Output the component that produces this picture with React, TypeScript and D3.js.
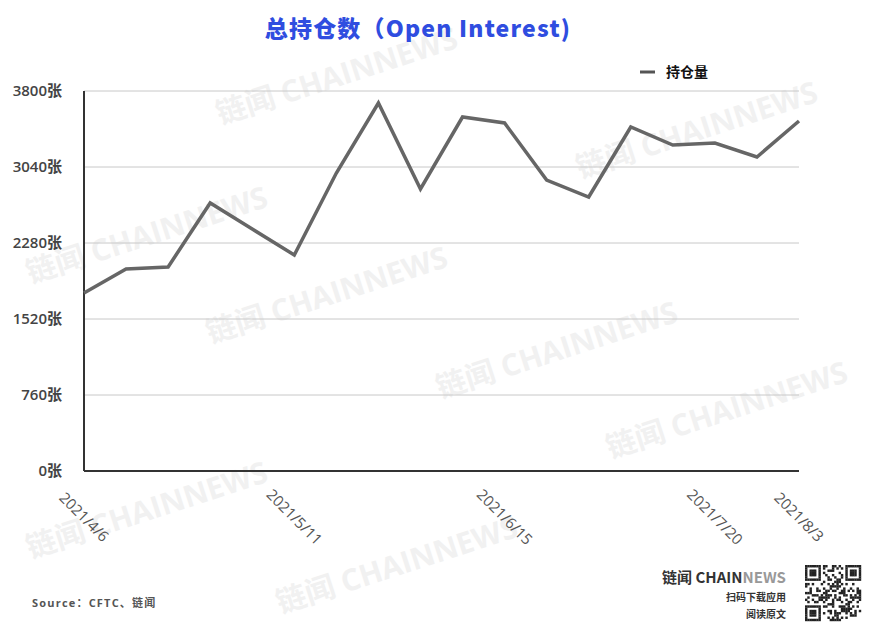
import { scaleLinear, scalePoint, line } from "d3";
import { useMemo } from "react";

// weekly dates (CFTC reports)
const dates = [
  "2021/4/6", "2021/4/13", "2021/4/20", "2021/4/27", "2021/5/4", "2021/5/11",
  "2021/5/18", "2021/5/25", "2021/6/1", "2021/6/8", "2021/6/15", "2021/6/22",
  "2021/6/29", "2021/7/6", "2021/7/13", "2021/7/20", "2021/7/27", "2021/8/3"
];
const openInterest = [
  1780, 2020, 2040, 2680, 2420, 2160, 2980, 3680, 2820, 3540, 3480, 2910,
  2740, 3440, 3260, 3280, 3140, 3500
];
const yTicks = [0, 760, 1520, 2280, 3040, 3800];
const xLabels = ["2021/4/6", "2021/5/11", "2021/6/15", "2021/7/20", "2021/8/3"];
const seriesName = "持仓量";

const width = 872;
const height = 632;
const margin = { left: 84, right: 73, top: 91, bottom: 161 };
const lineColor = "#666666";
const fontFamily = "'Open Sans', 'Noto Sans CJK SC', sans-serif";

const watermarks = [
  { x: 340, y: 86 },
  { x: 700, y: 140 },
  { x: 150, y: 245 },
  { x: 330, y: 305 },
  { x: 560, y: 360 },
  { x: 730, y: 420 },
  { x: 150, y: 520 },
  { x: 400, y: 575 },
];

function QrCode({ x, y, size }: { x: number; y: number; size: number }) {
  const n = 25;
  const cell = size / n;
  const cells: JSX.Element[] = [];
  const finder = (cx: number, cy: number) => (r: number, c: number) => {
    const dr = r - cy;
    const dc = c - cx;
    if (dr < 0 || dc < 0 || dr > 6 || dc > 6) return null;
    const ring = Math.min(dr, dc, 6 - dr, 6 - dc);
    return ring !== 1;
  };
  const finders = [finder(0, 0), finder(n - 7, 0), finder(0, n - 7)];
  for (let r = 0; r < n; r++) {
    for (let c = 0; c < n; c++) {
      let on: boolean | null = null;
      for (const f of finders) {
        const v = f(r, c);
        if (v !== null) on = v;
      }
      if (on === null) {
        const inSep = (r <= 7 && (c <= 7 || c >= n - 8)) || (r >= n - 8 && c <= 7);
        if (inSep) on = false;
        else on = ((r * 7 + c * 13 + ((r * c) % 5)) % 3) === 0 || ((r + c * c) % 7) === 1;
      }
      if (on) {
        cells.push(
          <rect key={`${r}-${c}`} x={x + c * cell} y={y + r * cell} width={cell + 0.2} height={cell + 0.2} fill="#222" />
        );
      }
    }
  }
  return <g>{cells}</g>;
}

export default function App() {
  const innerW = width - margin.left - margin.right;
  const innerH = height - margin.top - margin.bottom;

  const x = useMemo(() => scalePoint<string>().domain(dates).range([0, innerW]), [innerW]);
  const y = useMemo(() => scaleLinear().domain([0, 3800]).range([innerH, 0]), [innerH]);

  const path = line<number>()
    .x((_, i) => x(dates[i]) ?? 0)
    .y((d) => y(d))(openInterest) ?? "";

  return (
    <svg
      width={width}
      height={height}
      style={{ position: "absolute", left: 0, top: 0, background: "#fff" }}
      fontFamily={fontFamily}
    >
      <rect width={width} height={height} fill="#fff" />
      {watermarks.map((w, i) => (
        <text
          key={i}
          transform={`translate(${w.x},${w.y}) rotate(-18)`}
          textAnchor="middle"
          fontSize={30}
          fontWeight={700}
          fill="#f1f1f1"
        >
          链闻 CHAINNEWS
        </text>
      ))}

      <text
        x={418}
        y={37}
        textAnchor="middle"
        fontSize={23}
        fontWeight={800}
        fill="#2f4de0"
        fontFamily="'Noto Sans CJK SC', sans-serif"
        letterSpacing={1.2}
      >
        总持仓数（Open Interest)
      </text>

      <g transform="translate(640,72)">
        <line x1={0} x2={15} y1={0} y2={0} stroke="#555" strokeWidth={3} />
        <text x={26} y={5} fontSize={14} fontWeight={700} fill="#111" fontFamily="'Noto Sans CJK SC', sans-serif">
          {seriesName}
        </text>
      </g>

      <g transform={`translate(${margin.left},${margin.top})`}>
        {yTicks.map((t) => (
          <g key={t}>
            {t > 0 ? (
              <line x1={0} x2={innerW} y1={y(t)} y2={y(t)} stroke="#c8c8c8" strokeWidth={1} />
            ) : null}
            <text
              x={-22}
              y={y(t)}
              dy="0.35em"
              textAnchor="end"
              fontSize={15}
              fontWeight={600}
              fill="#444"
            >
              {`${t}张`}
            </text>
          </g>
        ))}
        <line x1={0} x2={0} y1={0} y2={innerH} stroke="#333" strokeWidth={2} />
        <line x1={0} x2={innerW} y1={innerH} y2={innerH} stroke="#333" strokeWidth={2} />

        <path d={path} fill="none" stroke={lineColor} strokeWidth={3.5} strokeLinejoin="miter" />

        {xLabels.map((d) => (
          <text
            key={d}
            transform={`translate(${x(d) ?? 0},${innerH + 46}) rotate(45)`}
            textAnchor="middle"
            dy="0.35em"
            fontSize={15}
            fill="#555"
          >
            {d}
          </text>
        ))}
      </g>

      <text x={32} y={607} fontSize={11} fontWeight={700} fill="#555" letterSpacing={1.2}>
        Source：CFTC、链闻
      </text>

      <g fontFamily="'Noto Sans CJK SC', sans-serif" fontWeight={700} textAnchor="end">
        <text x={786} y={583} fontSize={15} fill="#333">
          链闻 CHAIN<tspan fill="#999">NEWS</tspan>
        </text>
        <text x={786} y={601} fontSize={10} fill="#333">扫码下载应用</text>
        <text x={786} y={618} fontSize={10} fill="#333">阅读原文</text>
      </g>
      <QrCode x={805} y={565} size={56} />
    </svg>
  );
}
